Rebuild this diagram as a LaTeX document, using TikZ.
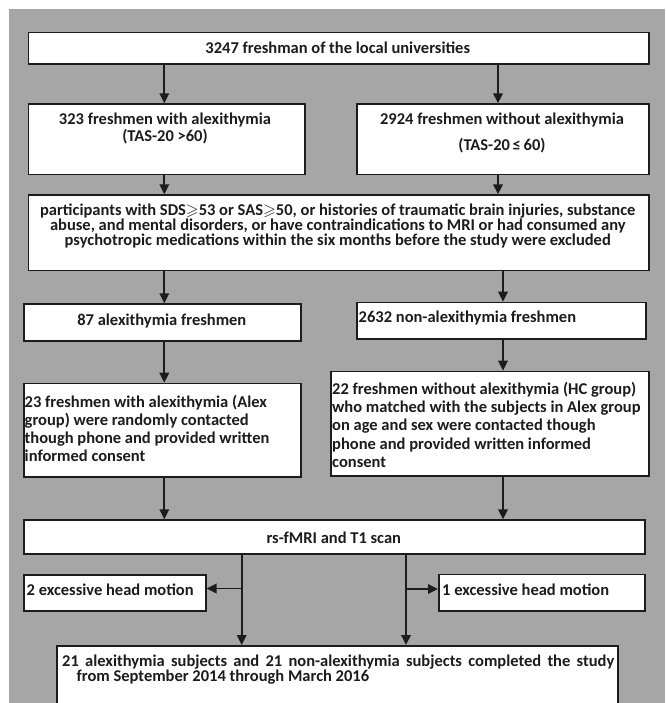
\documentclass[tikz,border=0pt]{standalone}
\usepackage{fontspec}
\setmainfont{Carlito}
\usepackage{amssymb}
\usetikzlibrary{arrows.meta}
\definecolor{bg}{RGB}{166,166,166}
\definecolor{ink}{RGB}{28,28,28}
\newcommand\mkbox[5]{\node[box, minimum width={(#4)-(#2)}, minimum height={(#5)-(#3)}] (#1) at (#2,#3) {};}
\begin{document}
\begin{tikzpicture}[x=1pt,y=-1pt,
  box/.style={draw=ink, fill=white, line width=1.5pt, inner sep=0pt, anchor=north west},
  txt/.style={inner sep=0pt, font=\fontsize{16.5}{18}\selectfont\bfseries, text=ink},
  arr/.style={draw=ink, line width=1.8pt, -{Triangle[length=10pt,width=9.5pt]}},
]
\useasboundingbox (0,0) rectangle (665,703);
\fill[white] (0,0) rectangle (665,703);
\fill[bg] (9,9) rectangle (665,703);

% boxes
\mkbox{top}{27.5}{31.7}{648}{63.3}
\mkbox{L2}{27.5}{103.3}{304}{174}
\mkbox{R2}{356}{103.3}{648}{174}
\mkbox{ex}{27.5}{194.3}{648}{269.8}
\mkbox{L3}{23.3}{303.3}{300.3}{340}
\mkbox{R3}{356}{301.7}{645}{338}
\mkbox{L4}{23.3}{382.7}{300.3}{476}
\mkbox{R4}{330}{370.7}{648}{475}
\mkbox{rs}{23.3}{519.3}{644.3}{553.3}
\mkbox{E2}{23.3}{574}{205}{610}
\mkbox{E1}{438}{573.5}{644.3}{610}
\mkbox{fin}{56}{645}{617}{708}

% texts
\node[txt] (ttop) at (337.75,48) {3247 freshman of the local universities};
\node[txt, align=center] (tL2) at (165,128.3) {323 freshmen with alexithymia\\[-1.3pt](TAS-20 >60)};
\node[txt, align=center] (tR2) at (502,133) {2924 freshmen without alexithymia\\[7.7pt](TAS-20\,≤\,60)};
\node[txt, align=center, font=\fontsize{16.5}{15.2}\selectfont\bfseries] (tex) at (337.75,226)
  {participants with SDS\ensuremath{\geqslant}53 or SAS\ensuremath{\geqslant}50, or histories of traumatic brain injuries, substance\\
   abuse, and mental disorders, or have contraindications to MRI or had consumed any\\
   psychotropic medications within the six months before the study were excluded};
\node[txt] (tL3) at (161.8,321) {87 alexithymia freshmen};
\node[txt, anchor=west] (tR3) at (358.5,318) {2632 non-alexithymia freshmen};
\node[txt, align=left, anchor=north west] (tL4) at (24.5,394.7)
  {23 freshmen with alexithymia (Alex\\group) were randomly contacted\\though phone and provided written\\informed consent};
\node[txt, align=left, anchor=north west, font=\fontsize{16.5}{18.2}\selectfont\bfseries] (tR4) at (332,382)
  {22 freshmen without alexithymia (HC group)\\who matched with the subjects in Alex group\\on age and sex were contacted though\\phone and provided written informed\\consent};
\node[txt] (trs) at (333.8,538) {rs-fMRI and T1 scan};
\node[txt, anchor=west] (tE2) at (26.5,590) {2 excessive head motion};
\node[txt, anchor=west] (tE1) at (442,590) {1 excessive head motion};
\node[txt, align=left, anchor=north west, font=\fontsize{16.5}{15}\selectfont\bfseries] (tfin) at (62,654.7)
  {\makebox[552pt][s]{21 alexithymia subjects and 21 non-alexithymia subjects completed the study}\\
   \hspace*{14.5pt}from September 2014 through March 2016};

% connectors
\coordinate (cl) at (164.3,0);
\coordinate (cr) at (498,0);
\coordinate (cr2) at (503,0);
\coordinate (bl) at (241.7,588.5);
\coordinate (br) at (406,589);
\draw[arr] (top.south -| cl) -- (L2.north -| cl);
\draw[arr] (top.south -| cr) -- (R2.north -| cr);
\draw[arr] (L2.south -| cl) -- (ex.north -| cl);
\draw[arr] (R2.south -| cr) -- (ex.north -| cr);
\draw[arr] (ex.south -| cl) -- (L3.north -| cl);
\draw[arr] (ex.south -| cr2) -- (R3.north -| cr2);
\draw[arr] (L3.south -| cl) -- (L4.north -| cl);
\draw[arr] (R3.south -| cr2) -- (R4.north -| cr2);
\draw[arr] (L4.south -| cl) -- (rs.north -| cl);
\draw[arr] (R4.south -| cr2) -- (rs.north -| cr2);
\draw[arr] (rs.south -| bl) -- (fin.north -| bl);
\draw[arr] (rs.south -| br) -- (fin.north -| br);
\draw[arr] (bl) -- (E2.east |- bl);
\draw[arr] (br) -- (E1.west |- br);
\end{tikzpicture}
\end{document}
